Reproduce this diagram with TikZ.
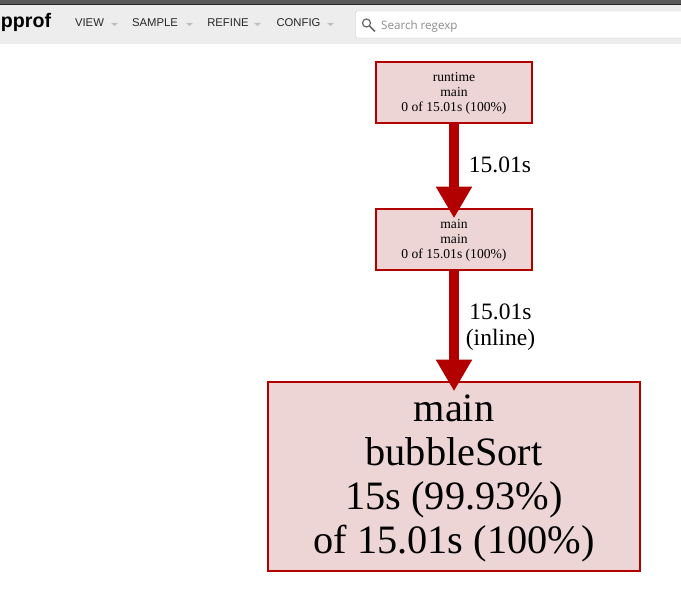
\documentclass[tikz,border=0pt]{standalone}
\usepackage{fontspec}
\setmainfont{Liberation Serif}
\newfontfamily\headfont{Liberation Sans}
\newfontfamily\searchfont{Open Sans}
\usetikzlibrary{arrows.meta}
\definecolor{edgered}{HTML}{B20000}
\definecolor{boxfill}{HTML}{EDD5D5}
\newcommand{\firstline}[1]{\rule{0pt}{#1}}
\tikzset{
  funcbox/.style={draw=edgered, fill=boxfill, line width=1.5pt, align=center, inner sep=0pt},
  smallbox/.style={funcbox, minimum width=156pt, minimum height=61pt, font=\fontsize{13.6}{15.3}\selectfont},
  bigbox/.style={funcbox, minimum width=372pt, minimum height=189pt, font=\fontsize{40.3}{44}\selectfont},
  calledge/.style={edgered, line width=10pt, -{Triangle[length=31.5pt, width=34pt]}, shorten >=-10pt},
  edgelabel/.style={font=\fontsize{23.5}{25.5}\selectfont, align=center},
  menuitem/.style={font=\headfont\fontsize{11.3}{14}\selectfont, text=black!85, inner sep=0pt},
  caret/.style={fill=black!25, draw=none}
}
\begin{document}
\begin{tikzpicture}[x=1pt, y=-1pt]
\useasboundingbox (0,0) rectangle (681,596);
% header bar
\fill[black!65] (0,0) rectangle (681,4);
\fill[black!85] (0,4) rectangle (681,5.5);
\fill[black!7] (0,5.5) rectangle (681,44);
\node[font=\headfont\bfseries\fontsize{19.6}{22}\selectfont, inner sep=0pt] (logo) at (26,22) {pprof};
\node[menuitem] (view) at (89.5,23) {VIEW};
\node[menuitem] (sample) at (155,23) {SAMPLE};
\node[menuitem] (refine) at (228,23) {REFINE};
\node[menuitem] (config) at (298.5,23) {CONFIG};
\fill[caret] (111,23) -- (118,23) -- (114.5,26) -- cycle;
\fill[caret] (186,23) -- (193,23) -- (189.5,26) -- cycle;
\fill[caret] (254,23) -- (261,23) -- (257.5,26) -- cycle;
\fill[caret] (327,23) -- (334,23) -- (330.5,26) -- cycle;
% search box
\filldraw[fill=white, draw=black!20, rounded corners=1.5pt] (355.5,11) rectangle (690,38);
\draw[black!60, line width=1.2pt] (366.5,23) circle (4pt);
\draw[black!60, line width=1.6pt] (369.5,26) -- (375,31.5);
\node[font=\searchfont\fontsize{11.6}{15}\selectfont, text=black!45, inner sep=0pt, anchor=west] (search) at (381,26) {Search regexp};
% graph
\node[smallbox] (runtime) at (454,92.5) {\firstline{10.6pt}runtime\\main\\0 of 15.01s (100\%)};
\node[smallbox] (mainmain) at (454,239.5) {\firstline{10.6pt}main\\main\\0 of 15.01s (100\%)};
\node[bigbox] (bubble) at (454,476.5) {\firstline{31.5pt}main\\bubbleSort\\15s (99.93\%)\\of 15.01s (100\%)};
\draw[calledge] (runtime) -- (mainmain);
\draw[calledge] (mainmain) -- (bubble);
\node[edgelabel] (lab1) at (500,165) {15.01s};
\node[edgelabel] (lab2) at (500.5,327) {15.01s\\(inline)};
\end{tikzpicture}
\end{document}
